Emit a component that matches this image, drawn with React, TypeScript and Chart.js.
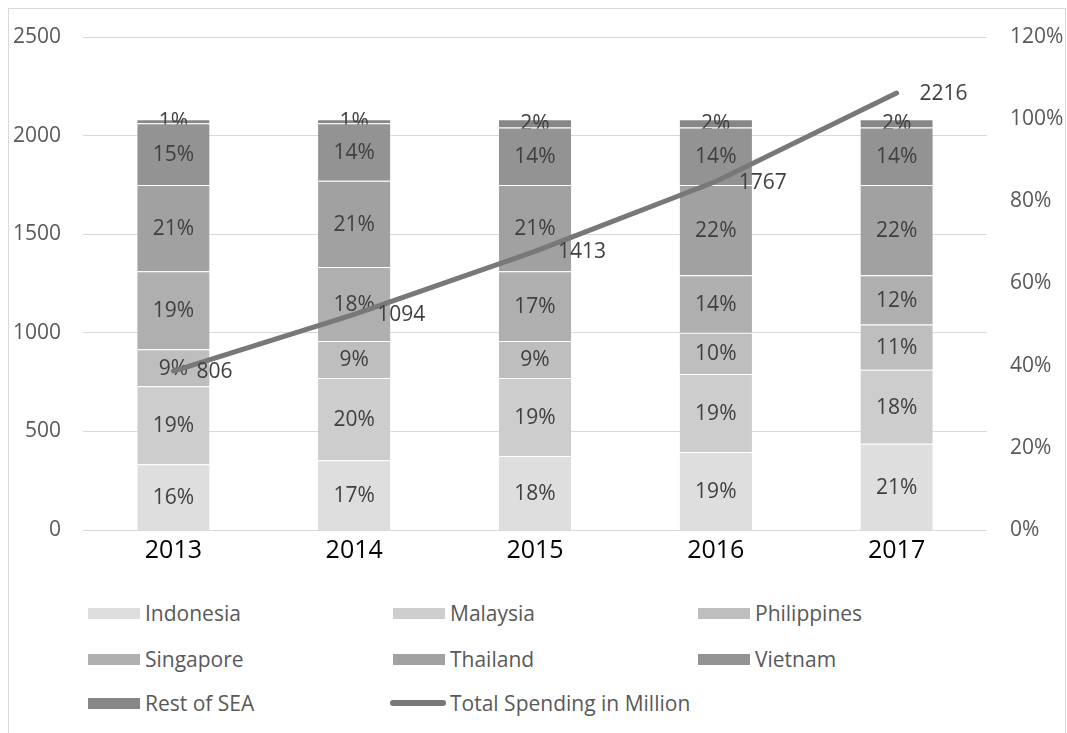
import React, { useEffect, useRef } from "react";
import { Chart, registerables } from "chart.js";

Chart.register(...registerables);

const years = ["2013", "2014", "2015", "2016", "2017"];
const indonesia = [16, 17, 18, 19, 21];
const malaysia = [19, 20, 19, 19, 18];
const philippines = [9, 9, 9, 10, 11];
const singapore = [19, 18, 17, 14, 12];
const thailand = [21, 21, 21, 22, 22];
const vietnam = [15, 14, 14, 14, 14];
const restOfSea = [1, 1, 2, 2, 2];
const totalSpending = [806, 1094, 1413, 1767, 2216];

const leftTicks = [0, 500, 1000, 1500, 2000, 2500];
const rightTicks = [0, 20, 40, 60, 80, 100, 120];

const barSeries = [
  { label: "Indonesia", data: indonesia, color: "#dedede" },
  { label: "Malaysia", data: malaysia, color: "#cdcdcd" },
  { label: "Philippines", data: philippines, color: "#bebebe" },
  { label: "Singapore", data: singapore, color: "#afafaf" },
  { label: "Thailand", data: thailand, color: "#a1a1a1" },
  { label: "Vietnam", data: vietnam, color: "#939393" },
  { label: "Rest of SEA", data: restOfSea, color: "#878787" },
];
const lineLabel = "Total Spending in Million";
const lineColor = "#787878";

const FONT = "'Open Sans', 'Liberation Sans', sans-serif";

const labelPlugin = {
  id: "valueLabels",
  afterDatasetDraw(chart: any, args: any) {
    const meta = args.meta;
    if (meta.type !== "bar") return;
    const ctx = chart.ctx;
    const ds = chart.data.datasets[args.index];
    ctx.save();
    ctx.font = `21px ${FONT}`;
    ctx.fillStyle = "#404040";
    ctx.textAlign = "center";
    ctx.textBaseline = "middle";
    meta.data.forEach((el: any, i: number) => {
      const cy = (el.y + el.base) / 2;
      ctx.fillText(`${ds.data[i]}%`, el.x, cy + 1);
    });
    ctx.restore();
  },
  afterDatasetsDraw(chart: any) {
    const ctx = chart.ctx;
    chart.data.datasets.forEach((ds: any, di: number) => {
      const meta = chart.getDatasetMeta(di);
      if (meta.type !== "line") return;
      ctx.save();
      ctx.font = `21px ${FONT}`;
      ctx.fillStyle = "#404040";
      ctx.textAlign = "left";
      ctx.textBaseline = "middle";
      meta.data.forEach((el: any, i: number) => {
        ctx.fillText(String(ds.data[i]), el.x + 23, el.y + 1);
      });
      ctx.restore();
    });
  },
};

export default function App() {
  const canvasRef = useRef<HTMLCanvasElement | null>(null);

  useEffect(() => {
    document.documentElement.style.overflow = "hidden";
    document.body.style.overflow = "hidden";
    if (!canvasRef.current) return;
    const datasets: any[] = barSeries.map((s) => ({
      type: "bar",
      label: s.label,
      data: s.data,
      backgroundColor: s.color,
      borderColor: "rgba(255,255,255,0.2)",
      borderWidth: { top: 1, left: 0, right: 0, bottom: 0 },
      borderSkipped: false,
      yAxisID: "y1",
      stack: "share",
      order: 1,
      barPercentage: 0.4,
      categoryPercentage: 1,
    }));
    datasets.push({
      type: "line",
      label: lineLabel,
      data: totalSpending,
      borderColor: lineColor,
      backgroundColor: lineColor,
      borderWidth: 5,
      borderCapStyle: "round",
      pointRadius: 0,
      tension: 0,
      yAxisID: "y",
      order: 0,
    });

    const chart = new Chart(canvasRef.current, {
      type: "bar",
      data: { labels: years, datasets },
      options: {
        responsive: false,
        animation: false,
        layout: { padding: { top: 28, left: 0, right: 0, bottom: 0 } },
        plugins: { legend: { display: false }, tooltip: { enabled: false } },
        scales: {
          x: {
            stacked: true,
            grid: { display: false },
            border: { display: false },
            ticks: { font: { family: FONT, size: 25 }, color: "#000000", padding: -2 },
            afterFit: (s: any) => {
              s.height = 59;
            },
          },
          y: {
            position: "left",
            min: 0,
            max: 2500,
            afterBuildTicks: (s: any) => {
              s.ticks = leftTicks.map((v) => ({ value: v }));
            },
            grid: { color: "#d9d9d9", lineWidth: 1, drawTicks: false },
            border: { display: false },
            ticks: {
              font: { family: FONT, size: 21 },
              color: "#595959",
              padding: 22,
              callback: (v: any) => String(v),
            },
            afterFit: (s: any) => {
              s.width = 74;
              s.paddingTop = 0;
              s.paddingBottom = 0;
            },
          },
          y1: {
            position: "right",
            stacked: true,
            min: 0,
            max: 120,
            afterBuildTicks: (s: any) => {
              s.ticks = rightTicks.map((v) => ({ value: v }));
            },
            grid: { display: false, drawTicks: false },
            border: { display: false },
            ticks: {
              font: { family: FONT, size: 21 },
              color: "#595959",
              padding: 23,
              callback: (v: any) => `${v}%`,
            },
            afterFit: (s: any) => {
              s.width = 78;
              s.paddingTop = 0;
              s.paddingBottom = 0;
            },
          },
        },
      },
      plugins: [labelPlugin],
    } as any);
    return () => chart.destroy();
  }, []);

  const legendCols = [79, 384, 689];
  const legendRows = [604, 650, 694];
  const legendItems: any[] = [
    ...barSeries.map((s) => ({ label: s.label, color: s.color, line: false })),
    { label: lineLabel, color: lineColor, line: true },
  ];

  return (
    <div
      style={{
        position: "fixed",
        left: 8,
        top: 8,
        width: 1056,
        height: 740,
        border: "1px solid #d9d9d9",
        fontFamily: FONT,
        background: "#ffffff",
      }}
    >
      <canvas
        ref={canvasRef}
        width={1056}
        height={580}
        style={{ position: "absolute", left: 0, top: 0, width: 1056, height: 580 }}
      />
      {legendItems.map((it, i) => {
        const col = i % 3;
        const row = Math.floor(i / 3);
        const x = legendCols[col];
        const y = legendRows[row];
        return (
          <div key={it.label} style={{ position: "absolute", left: x, top: y - 15, height: 30, display: "flex", alignItems: "center" }}>
            {it.line ? (
              <div style={{ width: 56, height: 6, borderRadius: 3, background: it.color, marginLeft: -3, marginRight: 4 }} />
            ) : (
              <div style={{ width: 52, height: 11, background: it.color, marginRight: 5 }} />
            )}
            <span style={{ fontSize: 21, color: "#595959", lineHeight: "30px", whiteSpace: "nowrap" }}>{it.label}</span>
          </div>
        );
      })}
    </div>
  );
}
